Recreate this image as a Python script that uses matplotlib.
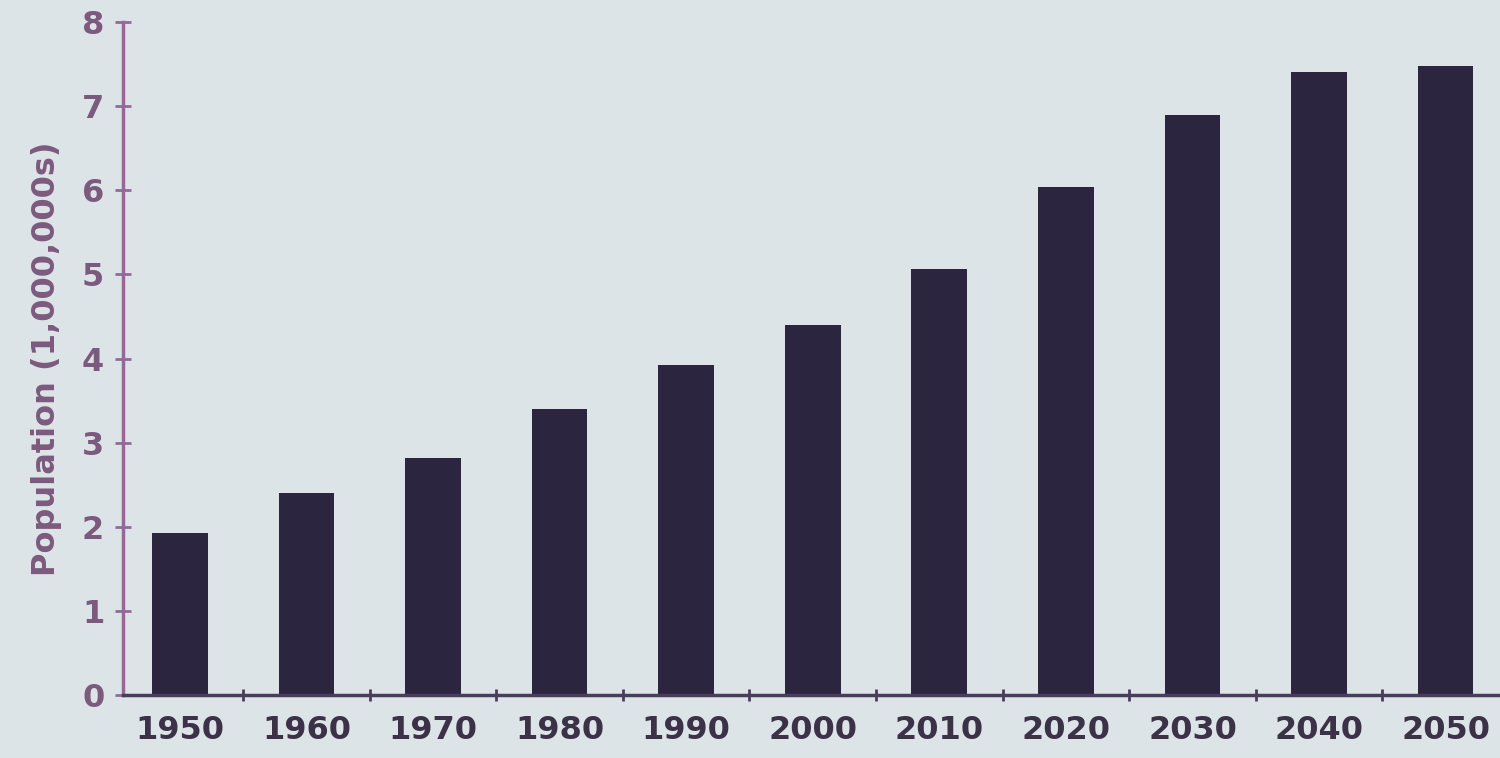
import matplotlib
matplotlib.use('Agg')
import matplotlib.pyplot as plt
import numpy as np

years = ['1950', '1960', '1970', '1980', '1990', '2000',
         '2010', '2020', '2030', '2040', '2050']
population = [1.93, 2.40, 2.82, 3.40, 3.92, 4.40, 5.07, 6.04, 6.90, 7.41, 7.48]

BG = '#dde4e7'
BAR = '#2b2540'
AXIS_Y = '#94699a'
AXIS_X = '#4a3d5c'
YTXT = '#7c5a7e'
XTXT = '#3c3248'

plt.rcParams['font.family'] = ['DejaVu Sans']

fig = plt.figure(figsize=(15, 7.58), dpi=100)
fig.patch.set_facecolor(BG)
ax = fig.add_axes([0.082, 0.083, 0.918, 0.888])
ax.set_facecolor(BG)

x = np.arange(len(years))
ax.bar(x, population, width=0.44, color=BAR, zorder=2)

ax.set_xlim(-0.45, 10.43)
ax.set_ylim(0, 8)

for side in ['top', 'right']:
    ax.spines[side].set_visible(False)
ax.spines['left'].set_color(AXIS_Y)
ax.spines['left'].set_linewidth(2.5)
ax.spines['bottom'].set_color(AXIS_X)
ax.spines['bottom'].set_linewidth(2.5)

ax.set_yticks(range(0, 9))
ax.tick_params(axis='y', direction='inout', length=11, width=2, color=AXIS_Y,
               labelsize=23, labelcolor=YTXT, pad=8)
for lab in ax.get_yticklabels():
    lab.set_fontweight('bold')

ax.set_xticks(x)
ax.set_xticklabels(years, fontsize=23, fontweight='bold', color=XTXT)
ax.tick_params(axis='x', which='major', length=0, pad=14)
ax.set_xticks(x[:-1] + 0.5, minor=True)
ax.tick_params(axis='x', which='minor', direction='inout', length=9, width=2, color=AXIS_X)

ax.set_ylabel('Population (1,000,000s)', fontsize=23, fontweight='bold',
              color=YTXT, labelpad=14)

fig.savefig('out.png', dpi=100, facecolor=BG)
